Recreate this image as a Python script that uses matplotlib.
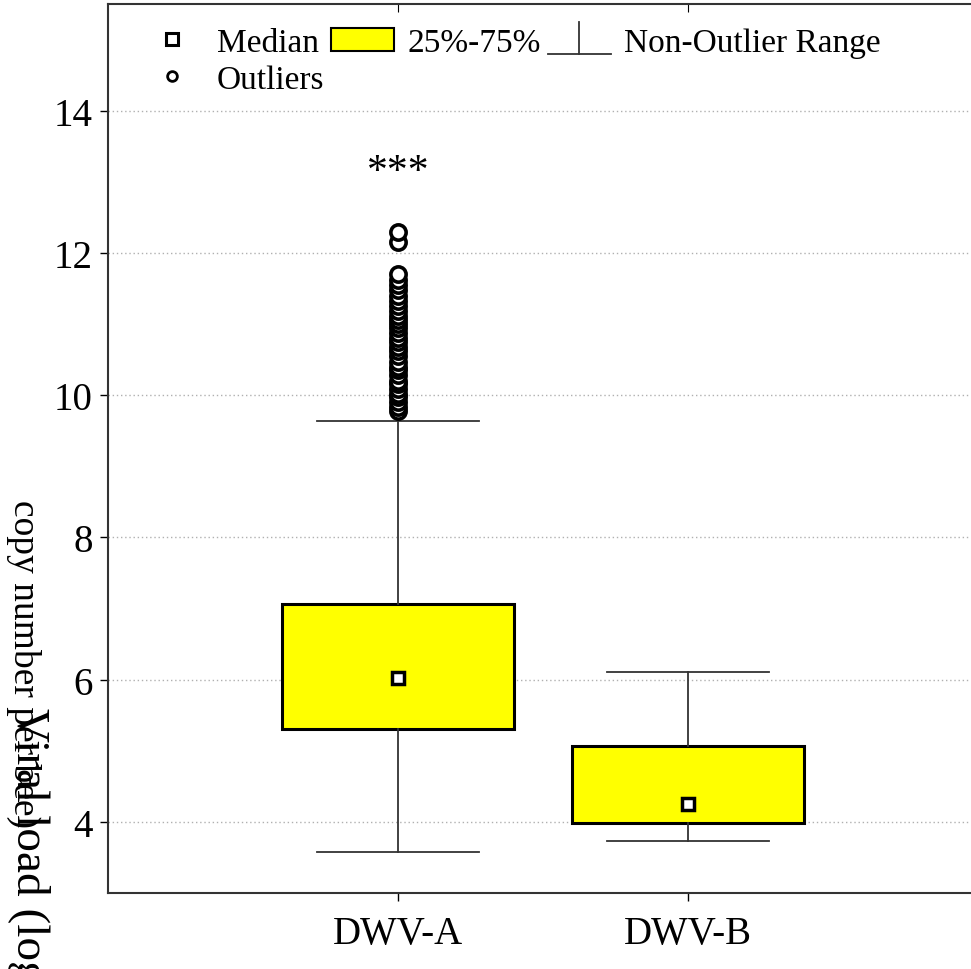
import numpy as np
import matplotlib
matplotlib.use('Agg')
import matplotlib.pyplot as plt
from matplotlib.lines import Line2D
from matplotlib.patches import Patch
from matplotlib.legend_handler import HandlerBase

plt.rcParams['font.family'] = ['Liberation Serif', 'DejaVu Serif']

# data
groups = ['DWV-A', 'DWV-B']
medians = [6.03, 4.25]
q1 = [5.30, 3.98]
q3 = [7.06, 5.07]
whisker_low = [3.58, 3.73]
whisker_high = [9.63, 6.11]
outliers_a = [9.78, 9.83, 9.90, 9.97, 10.02, 10.08, 10.15, 10.20, 10.28, 10.35,
              10.40, 10.47, 10.55, 10.62, 10.68, 10.75, 10.80, 10.88, 10.95, 11.00,
              11.05, 11.12, 11.18, 11.25, 11.32, 11.40, 11.48, 11.55, 11.62, 11.70,
              12.15, 12.30]
outliers_b = []
y_ticks = [4, 6, 8, 10, 12, 14]


class WhiskerHandler(HandlerBase):
    def create_artists(self, legend, orig_handle, xdescent, ydescent, width, height, fontsize, trans):
        x0, x1 = -xdescent, -xdescent + width
        xm = (x0 + x1) / 2
        y0 = -ydescent - 0.15 * height
        y1 = -ydescent + 1.25 * height
        cap = Line2D([x0, x1], [y0, y0], color='#333333', lw=1.3, transform=trans)
        stem = Line2D([xm, xm], [y0, y1], color='#333333', lw=1.3, transform=trans)
        return [cap, stem]


fig = plt.figure(figsize=(9.71, 9.70), dpi=100)
ax = fig.add_axes([108 / 971, 76 / 970, 870 / 971, 889 / 970])

positions = [1, 2]
stats = []
for i in range(len(groups)):
    stats.append({'med': medians[i], 'q1': q1[i], 'q3': q3[i],
                  'whislo': whisker_low[i], 'whishi': whisker_high[i],
                  'mean': medians[i],
                  'fliers': [outliers_a, outliers_b][i], 'label': groups[i]})

ax.bxp(stats, positions=positions, widths=0.8, patch_artist=True,
       showmeans=True, showfliers=True,
       boxprops=dict(facecolor='#ffff00', edgecolor='black', linewidth=2.2),
       whiskerprops=dict(color='#333333', linewidth=1.3),
       capprops=dict(color='#333333', linewidth=1.3),
       capwidths=0.56,
       medianprops=dict(linewidth=0),
       meanprops=dict(marker='s', markersize=9, markerfacecolor='white',
                      markeredgecolor='black', markeredgewidth=2.5),
       flierprops=dict(marker='o', markersize=11, markerfacecolor='white',
                       markeredgecolor='black', markeredgewidth=2.6))

ax.set_xlim(0, 3)
ax.set_ylim(3, 15.5)
ax.set_yticks(y_ticks)
ax.set_xticks(positions)
ax.set_xticklabels(groups)
ax.yaxis.grid(True, linestyle=(0, (1, 2)), color='#b0b0b0', linewidth=1)
ax.set_axisbelow(True)
for s in ['left', 'bottom', 'top']:
    ax.spines[s].set_linewidth(1.5)
    ax.spines[s].set_color('#333333')
ax.spines['right'].set_visible(False)
ax.tick_params(axis='both', labelsize=28, direction='out', length=6, width=1)
ax.tick_params(axis='y', pad=5)
ax.tick_params(axis='x', pad=10)

top = ax.secondary_xaxis('top')
top.set_xticks(positions)
top.tick_params(direction='in', length=6, labeltop=False)
top.spines['top'].set_visible(False)

ax.text(1, 13.14, '***', ha='center', va='center', fontsize=30)

# y label: two overlapping lines as in the reference
fig.text(24 / 971, 1 - 500 / 970, 'copy number per bee)', rotation=270,
         ha='center', va='top', fontsize=27)
fig.text(28 / 971, 1 - 708 / 970, 'Viral load (log', rotation=270,
         ha='center', va='top', fontsize=34)

h_med = Line2D([], [], marker='s', linestyle='none', markersize=8,
               markerfacecolor='white', markeredgecolor='black', markeredgewidth=2.2)
h_out = Line2D([], [], marker='o', linestyle='none', markersize=7,
               markerfacecolor='white', markeredgecolor='black', markeredgewidth=2)
h_box = Patch(facecolor='#ffff00', edgecolor='black', linewidth=1.5)
h_whisk = object()
leg = ax.legend([h_med, h_out, h_box, h_whisk],
                ['Median', 'Outliers', '25%-75%', 'Non-Outlier Range'],
                handler_map={h_whisk: WhiskerHandler()},
                ncol=3, loc='upper left', bbox_to_anchor=(0.01, 1.0),
                frameon=False, fontsize=24, handlelength=1.9,
                handletextpad=0.4, columnspacing=0.2, labelspacing=0.2,
                borderaxespad=0.3)

plt.savefig('out.png', dpi=100)
